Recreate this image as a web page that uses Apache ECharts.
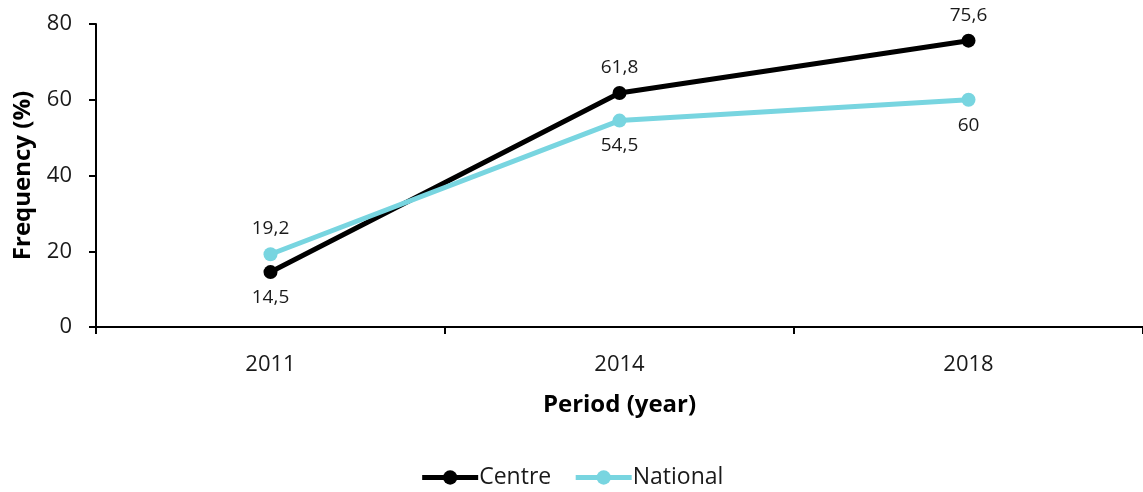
<!DOCTYPE html>
<html><head><meta charset="utf-8">
<script src="https://cdn.jsdelivr.net/npm/echarts@6/dist/echarts.min.js"></script>
<style>html,body{margin:0;padding:0;background:#fff}#c{width:1143px;height:492px}</style>
</head><body><div id="c"></div>
<script>
const categories = ['2011', '2014', '2018'];
const centre = [14.5, 61.8, 75.6];
const national = [19.2, 54.5, 60];
const centreLabelPos = ['bottom', 'top', 'top'];
const nationalLabelPos = ['top', 'bottom', 'bottom'];
const yTicks = [0, 20, 40, 60, 80];

const FONT = '"Open Sans", "Noto Sans", sans-serif';
const fmt = v => String(v).replace('.', ',');
function mk(vals, pos) {
  return vals.map((v, i) => ({ value: v, label: { position: pos[i] } }));
}
const chart = echarts.init(document.getElementById('c'));
chart.setOption({
  animation: false,
  textStyle: { fontFamily: FONT },
  grid: { left: 96, right: -3, top: 24, bottom: 165, containLabel: false },
  xAxis: {
    type: 'category', data: categories, boundaryGap: true,
    axisLine: { lineStyle: { color: '#000', width: 2 } },
    axisTick: { show: true, length: 7, lineStyle: { color: '#000', width: 2 } },
    axisLabel: { color: '#1a1a1a', fontSize: 22, margin: 27, fontFamily: FONT },
    name: 'Period (year)', nameLocation: 'middle', nameGap: 66,
    nameTextStyle: { fontSize: 24, fontWeight: 'bold', color: '#000', fontFamily: FONT }
  },
  yAxis: {
    type: 'value', min: yTicks[0], max: yTicks[yTicks.length - 1], interval: 20,
    splitLine: { show: false },
    axisLine: { show: true, lineStyle: { color: '#000', width: 2 } },
    axisTick: { show: true, length: 7, lineStyle: { color: '#000', width: 2 } },
    axisLabel: { color: '#1a1a1a', fontSize: 22, margin: 24, fontFamily: FONT },
    name: 'Frequency (%)', nameLocation: 'middle', nameGap: 61, nameRotate: 90,
    nameTextStyle: { fontSize: 24, fontWeight: 'bold', color: '#000', fontFamily: FONT }
  },
  legend: {
    bottom: -2, left: 'center', itemWidth: 56, itemHeight: 18, itemGap: 22,
    textStyle: { fontSize: 23, color: '#1a1a1a', fontFamily: FONT, padding: [0, 0, 0, -4] },
    lineStyle: { width: 5 },
    data: ['Centre', 'National']
  },
  series: [
    {
      name: 'Centre', type: 'line', data: mk(centre, centreLabelPos),
      symbol: 'circle', symbolSize: 14,
      lineStyle: { color: '#000', width: 5 }, itemStyle: { color: '#000' },
      label: { show: true, fontSize: 19, color: '#1a1a1a', distance: 9, fontFamily: FONT,
        formatter: p => fmt(p.value) }
    },
    {
      name: 'National', type: 'line', data: mk(national, nationalLabelPos),
      symbol: 'circle', symbolSize: 14,
      lineStyle: { color: '#78D5E0', width: 5 }, itemStyle: { color: '#78D5E0' },
      label: { show: true, fontSize: 19, color: '#1a1a1a', distance: 9, fontFamily: FONT,
        formatter: p => fmt(p.value) }
    }
  ]
});
</script></body></html>
